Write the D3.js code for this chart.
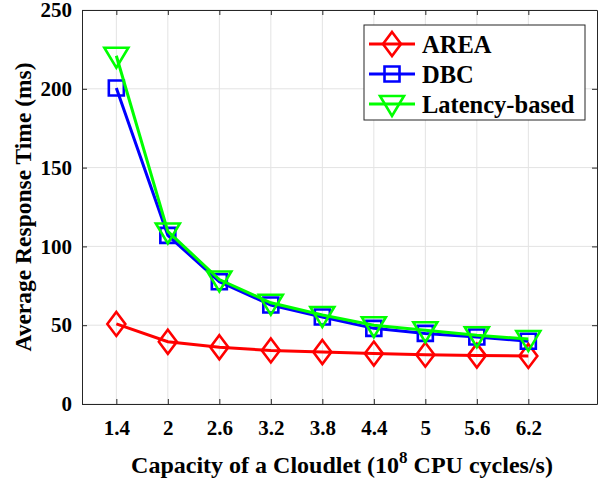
<!DOCTYPE html>
<html><head><meta charset="utf-8">
<script src="https://cdn.jsdelivr.net/npm/d3@7"></script>
<style>body{margin:0;background:#fff}svg{display:block}</style>
</head><body>
<svg id="c" width="605" height="480"></svg>
<script>
const capacities = [1.4, 2, 2.6, 3.2, 3.8, 4.4, 5, 5.6, 6.2];
const xTickLabels = ["1.4","2","2.6","3.2","3.8","4.4","5","5.6","6.2"];
const yTicks = [0, 50, 100, 150, 200, 250];
const areaValues = [50.8, 39.5, 36, 34, 33, 32, 31.3, 30.7, 30.5];
const dbcValues = [200.5, 107, 77.6, 62.8, 55.2, 48, 44.8, 42.5, 39.8];
const latencyValues = [221, 109.5, 79, 64.2, 56.5, 50, 46.8, 43.6, 41.2];
const seriesNames = ["AREA", "DBC", "Latency-based"];
const seriesColors = ["#ff0000", "#0000ff", "#00ff00"];
const seriesMarkers = ["diamond", "square", "triangle"];

const series = [areaValues, dbcValues, latencyValues].map((v, i) => ({
  name: seriesNames[i], color: seriesColors[i], marker: seriesMarkers[i],
  values: v.map((y, j) => ({x: capacities[j], y}))
}));

const L = 82, R = 597, T = 10, B = 404;
const svg = d3.select("#c");
const x = d3.scaleLinear().domain([1, 7]).range([L, R]);
const y = d3.scaleLinear().domain([0, 250]).range([B, T]);
const font = "'Liberation Serif','Times New Roman',serif";
const axisColor = "#262626";

// grid
const g = svg.append("g");
g.selectAll(".gx").data(capacities).enter().append("line")
  .attr("x1", d => x(d)).attr("x2", d => x(d)).attr("y1", T).attr("y2", B)
  .attr("stroke", "#e3e3e3").attr("stroke-width", 1);
g.selectAll(".gy").data(yTicks).enter().append("line")
  .attr("x1", L).attr("x2", R).attr("y1", d => y(d)).attr("y2", d => y(d))
  .attr("stroke", "#e3e3e3").attr("stroke-width", 1);

// axes with inward ticks
const tickLen = 5;
const xAxisB = d3.axisBottom(x).tickValues(capacities).tickFormat((d, i) => xTickLabels[i]).tickSizeInner(-tickLen).tickSizeOuter(0).tickPadding(16);
const xAxisT = d3.axisTop(x).tickValues(capacities).tickFormat("").tickSizeInner(-tickLen).tickSizeOuter(0);
const yAxisL = d3.axisLeft(y).tickValues(yTicks).tickSizeInner(-tickLen).tickSizeOuter(0).tickPadding(10);
const yAxisR = d3.axisRight(y).tickValues(yTicks).tickFormat("").tickSizeInner(-tickLen).tickSizeOuter(0);

function style(sel) {
  sel.selectAll("path").attr("stroke", axisColor).attr("stroke-width", 1);
  sel.selectAll("line").attr("stroke", axisColor).attr("stroke-width", 1);
  sel.selectAll("text").attr("fill", "#000").style("font-family", font).style("font-weight", "bold").style("font-size", "21px");
}
svg.append("g").attr("transform", `translate(0,${B})`).call(xAxisB).call(style);
svg.append("g").attr("transform", `translate(0,${T})`).call(xAxisT).call(style);
svg.append("g").attr("transform", `translate(${L},0)`).call(yAxisL).call(style);
svg.append("g").attr("transform", `translate(${R},0)`).call(yAxisR).call(style);

// marker path generator
function markerPath(type) {
  if (type === "diamond") return "M0,-12L9,0L0,12L-9,0Z";
  if (type === "square") return "M-7.5,-7.5L7.5,-7.5L7.5,7.5L-7.5,7.5Z";
  return "M-12,-8L12,-8L0,12Z";
}

const line = d3.line().x(d => x(d.x)).y(d => y(d.y));
series.forEach(s => {
  const sg = svg.append("g");
  sg.append("path").datum(s.values).attr("d", line)
    .attr("fill", "none").attr("stroke", s.color).attr("stroke-width", 3);
  sg.selectAll("path.m").data(s.values).enter().append("path").attr("class", "m")
    .attr("transform", d => `translate(${x(d.x)},${y(d.y)})`)
    .attr("d", markerPath(s.marker))
    .attr("fill", "none").attr("stroke", s.color).attr("stroke-width", 2.6);
});

// legend
const lg = svg.append("g");
lg.append("rect").attr("x", 364).attr("y", 25).attr("width", 221).attr("height", 95)
  .attr("fill", "#fff").attr("stroke", axisColor).attr("stroke-width", 1);
series.forEach((s, i) => {
  const yy = 44 + i * 30;
  lg.append("line").attr("x1", 369).attr("x2", 415).attr("y1", yy).attr("y2", yy)
    .attr("stroke", s.color).attr("stroke-width", 3);
  lg.append("path").attr("transform", `translate(392,${yy})`).attr("d", markerPath(s.marker))
    .attr("fill", "none").attr("stroke", s.color).attr("stroke-width", 2.6);
  lg.append("text").attr("x", 422).attr("y", yy).attr("dy", "0.35em")
    .style("font-family", font).style("font-weight", "bold").style("font-size", "24.5px")
    .text(s.name);
});

// axis titles
const xt = svg.append("text").attr("x", 342).attr("y", 473)
  .attr("text-anchor", "middle")
  .style("font-family", font).style("font-weight", "bold").style("font-size", "24px");
xt.append("tspan").text("Capacity of a Cloudlet (10");
xt.append("tspan").attr("dy", -10).style("font-size", "17px").text("8");
xt.append("tspan").attr("dy", 10).text(" CPU cycles/s)");

svg.append("text").attr("transform", `translate(31,${207}) rotate(-90)`)
  .attr("text-anchor", "middle")
  .style("font-family", font).style("font-weight", "bold").style("font-size", "23.5px")
  .text("Average Response Time (ms)");
</script>
</body></html>
